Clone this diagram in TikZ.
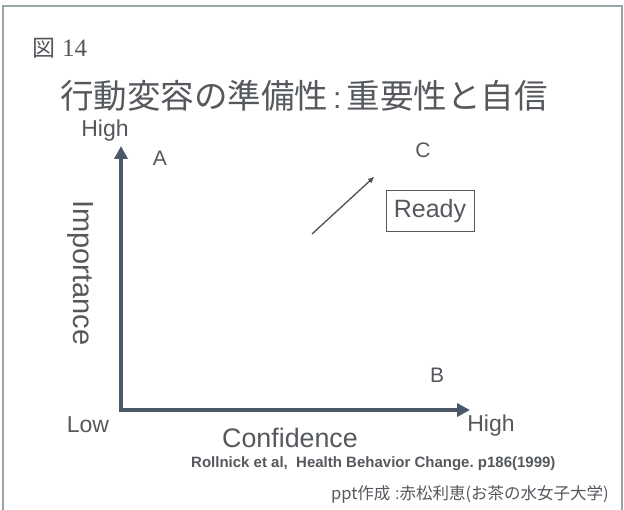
\documentclass[tikz,border=0pt]{standalone}
\usepackage{fontspec}
\setmainfont{Liberation Sans}
\newfontfamily\jpfont{Noto Sans CJK JP}
\newfontfamily\serifnum{Liberation Serif}
\usetikzlibrary{arrows.meta}
\definecolor{txtgray}{HTML}{55595D}
\definecolor{axisblue}{HTML}{4A5867}
\definecolor{framegray}{HTML}{9AA3A8}
\tikzset{
  lbl/.style={text=txtgray, inner sep=0pt, font=\fontsize{23}{23}\selectfont},
  quad/.style={lbl, font=\fontsize{21}{21}\selectfont},
  axis/.style={draw=axisblue, line width=4pt, -{Triangle[length=13pt,width=13pt]}},
}
\begin{document}
\begin{tikzpicture}[x=1pt,y=-1pt]
\useasboundingbox (0,0) rectangle (624,510);
\fill[white] (0,0) rectangle (624,510);
% slide frame
\draw[framegray, line width=1.6pt] (3,515) -- (3,6) -- (622,6) -- (622,515);

% heading
\node[text=txtgray, anchor=west, inner sep=0pt] (fig) at (32,48)
  {\jpfont\fontsize{23}{23}\selectfont 図\hspace{7pt}\serifnum\fontsize{25}{25}\selectfont 14};
\node[text=txtgray, anchor=west, inner sep=0pt] (title) at (60,96)
  {\jpfont\fontsize{33.5}{33.5}\selectfont 行動変容の準備性{\rmfamily\fontsize{30}{30}\selectfont\,:\,}重要性と自信};

% axes
\coordinate (O) at (121,410);
\coordinate (ytip) at (121,146);
\coordinate (xtip) at (470,410);
\draw[axis] (O) -- (ytip);
\draw[axis] ([xshift=-2pt]O) -- (xtip);

% axis labels
\node[lbl] (yhigh) at (105,131) {High};
\node[lbl] (low) at (88,425) {Low};
\node[lbl] (xhigh) at (491,426) {High};
\node[lbl, font=\fontsize{29}{29}\selectfont, rotate=-90] (imp) at (80,273) {Importance};
\node[lbl, font=\fontsize{26.8}{26.8}\selectfont] (conf) at (290,438) {Confidence};

% quadrant letters
\node[quad] (A) at (160,158) {A};
\node[quad] (C) at (423,150) {C};
\node[quad] (B) at (437,375) {B};

% readiness direction
\coordinate (d0) at (312,234);
\coordinate (d1) at (374,177);
\draw[draw=txtgray!90!black, line width=1.3pt, -{Triangle[length=6pt,width=5pt]}] (d0) -- (d1);
\node[draw=txtgray, line width=1pt, text=txtgray, minimum width=88pt, minimum height=41pt,
      inner sep=0pt, font=\fontsize{25}{25}\selectfont] (ready) at (430,211) {Ready};

% source notes
\node[text=txtgray, inner sep=0pt, anchor=west, font=\bfseries\fontsize{15}{15}\selectfont]
  (ref) at (191,464) {Rollnick et al,\ \ Health Behavior Change.\ p186(1999)};
\node[text=txtgray, inner sep=0pt, anchor=east]
  (auth) at (609,494) {\jpfont\fontsize{16.5}{16.5}\selectfont ppt作成{\rmfamily\ :}赤松利恵(お茶の水女子大学)};
\end{tikzpicture}
\end{document}
